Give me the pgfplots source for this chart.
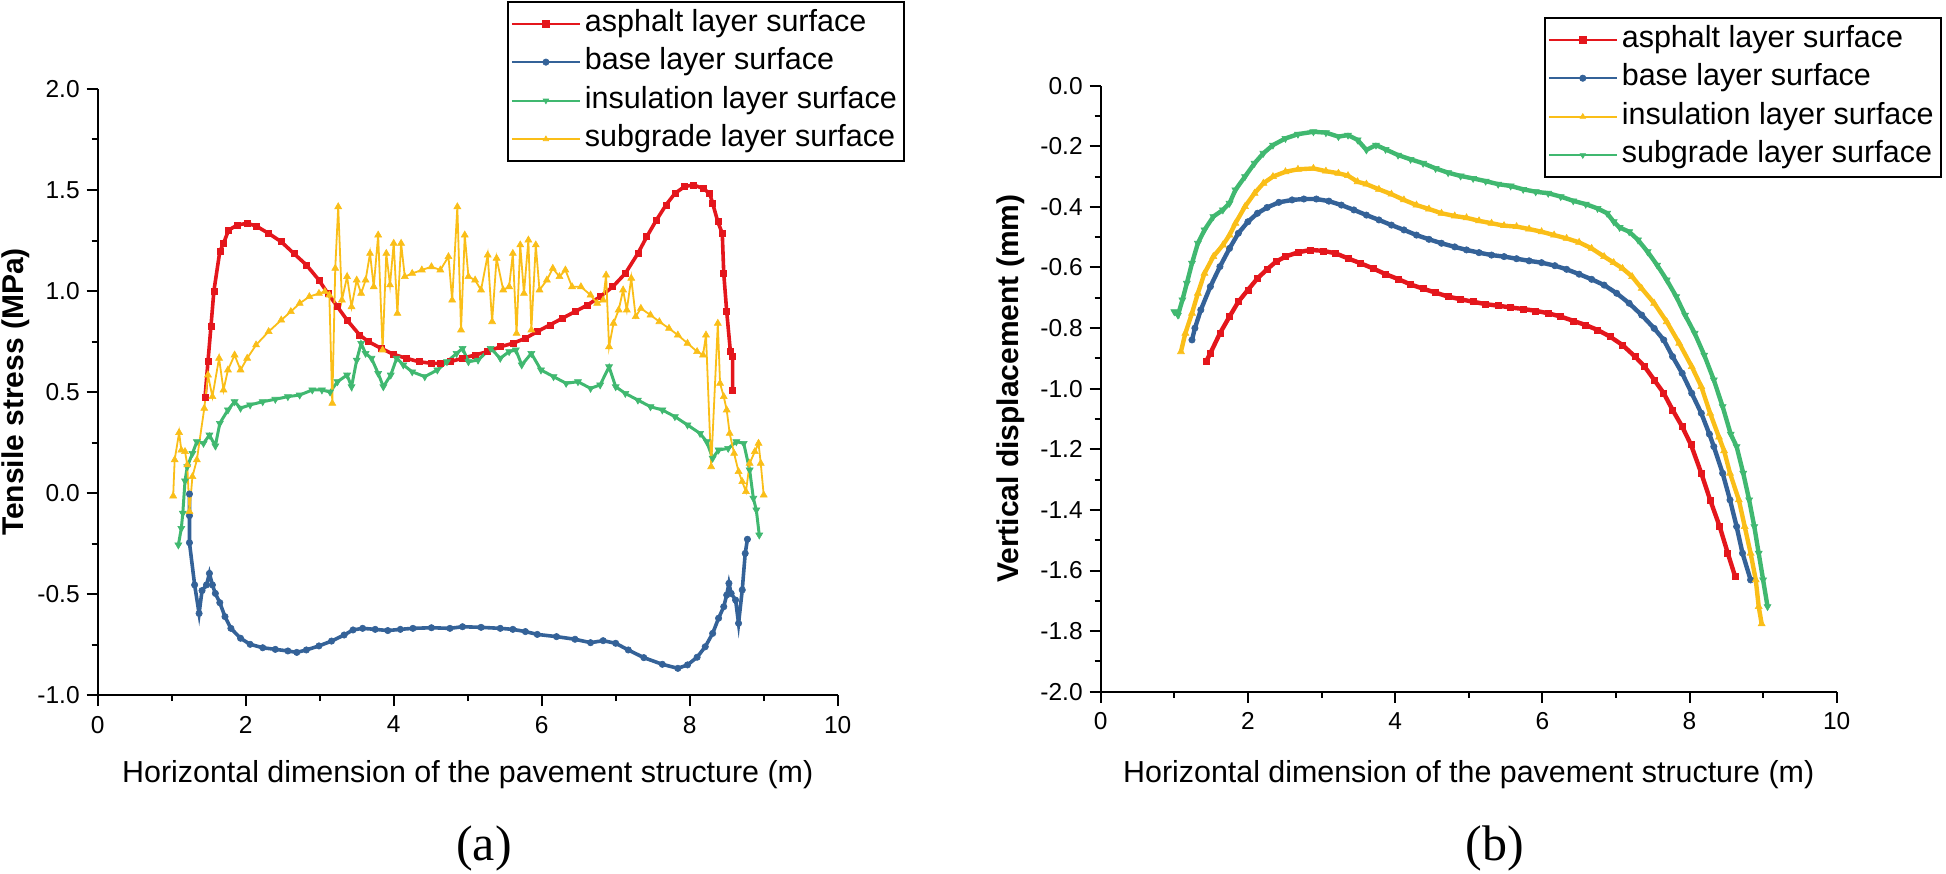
\documentclass[border=0pt]{standalone}
\usepackage{fontspec}
\setmainfont{Liberation Sans}
\newfontfamily\timesf{Liberation Serif}
\usepackage{pgfplots}
\pgfplotsset{compat=1.18}
\definecolor{cred}{RGB}{228,22,28}
\definecolor{cblue}{RGB}{52,98,152}
\definecolor{cgreen}{RGB}{64,184,112}
\definecolor{cyellow}{RGB}{250,190,24}

\pgfplotsset{
  panel/.style={
    scale only axis,
    width=370pt, height=303pt,
    xmin=0, xmax=10,
    axis x line=bottom, axis y line=left,
    axis line style={-, line width=1pt},
    tick align=outside,
    every tick/.style={black, line width=1pt},
    major tick length=5.5pt, minor tick length=3pt,
    xtick={0,2,...,10}, minor x tick num=1,
    /pgf/number format/assume math mode=true,
    tick label style={font=\fontsize{12.25}{14}\selectfont},
    xticklabel style={yshift=-1.5pt},
    yticklabel style={/pgf/number format/.cd, fixed, fixed zerofill, precision=1},
    label style={font=\fontsize{15.2}{18}\selectfont},
    ylabel style={font=\fontsize{15}{18}\selectfont\bfseries},
    legend cell align=left,
    legend style={draw=black, line width=1pt, anchor=north west,
      font=\fontsize{15.25}{18}\selectfont,
      inner sep=1.5pt, row sep=0.75pt,
      nodes={inner sep=2pt, text height=11pt, text depth=3.5pt}},
    legend image code/.code={\draw[mark repeat=2,mark phase=2,#1,line width=1pt,mark size=1.6pt]
      plot coordinates {(0pt,0pt) (17pt,0pt) (34pt,0pt)};},
  },
  sred/.style={color=cred, mark=square*, mark size=1.5pt, mark options={solid, line width=0.3pt}},
  sblue/.style={color=cblue, mark=*, mark size=1.6pt, mark options={solid, line width=0.3pt}},
  sgreen/.style={color=cgreen, mark=triangle*, mark size=2pt, mark options={solid, rotate=180, line width=0.3pt}},
  syellow/.style={color=cyellow, mark=triangle*, mark size=2pt, mark options={solid, line width=0.3pt}},
}

\begin{document}
\begin{tikzpicture}
\path[use as bounding box] (0,0) rectangle (973pt,436.5pt);

% ---------------- (a) ----------------
\begin{axis}[panel,
  at={(48.85pt,89pt)}, anchor=south west,
  ymin=-1, ymax=2, ytick={-1,-0.5,...,2}, minor y tick num=1,
  xlabel={Horizontal dimension of the pavement structure (m)},
  xlabel style={at={(axis description cs:0.5,0)}, anchor=base, yshift=-43.5pt},
  ylabel={Tensile stress (MPa)},
  ylabel style={at={(axis description cs:-0.1104,0.5)}, anchor=center},
  legend style={at={(axis description cs:0.553,1.145)}},
]
\addplot[sred, line width=1.8pt] table {
1.45 0.472
1.49 0.65
1.53 0.823
1.57 1.0
1.65 1.195
1.70 1.236
1.77 1.302
1.89 1.327
2.02 1.335
2.14 1.322
2.31 1.285
2.48 1.244
2.65 1.186
2.82 1.129
2.99 1.054
3.11 0.988
3.24 0.922
3.37 0.856
3.54 0.782
3.66 0.749
3.83 0.716
4.00 0.686
4.17 0.667
4.34 0.650
4.51 0.642
4.63 0.642
4.76 0.650
4.93 0.667
5.10 0.683
5.27 0.700
5.44 0.724
5.61 0.741
5.78 0.766
5.94 0.799
6.11 0.832
6.28 0.865
6.45 0.898
6.62 0.931
6.79 0.972
6.96 1.021
7.13 1.087
7.30 1.186
7.42 1.269
7.55 1.351
7.68 1.426
7.80 1.483
7.93 1.517
8.05 1.525
8.18 1.508
8.27 1.483
8.31 1.434
8.38 1.343
8.44 1.285
8.46 1.087
8.50 0.898
8.55 0.700
8.58 0.675
8.58 0.510
};
\addlegendentry{asphalt layer surface}
\addplot[sblue, line width=1.8pt] table {
1.24 -0.005
1.24 -0.112
1.24 -0.246
1.31 -0.455
1.37 -0.596
1.41 -0.483
1.47 -0.455
1.51 -0.398
1.55 -0.455
1.59 -0.497
1.65 -0.543
1.72 -0.612
1.80 -0.670
1.93 -0.719
2.06 -0.749
2.23 -0.766
2.40 -0.774
2.57 -0.782
2.69 -0.789
2.82 -0.777
2.99 -0.757
3.16 -0.733
3.33 -0.703
3.45 -0.678
3.58 -0.670
3.75 -0.675
3.92 -0.681
4.09 -0.675
4.26 -0.670
4.51 -0.667
4.76 -0.670
4.93 -0.662
5.18 -0.665
5.44 -0.670
5.61 -0.675
5.78 -0.686
5.94 -0.700
6.20 -0.711
6.45 -0.724
6.66 -0.741
6.83 -0.731
7.00 -0.744
7.17 -0.777
7.38 -0.815
7.63 -0.848
7.84 -0.868
7.97 -0.851
8.10 -0.813
8.21 -0.761
8.31 -0.695
8.39 -0.620
8.46 -0.563
8.50 -0.505
8.53 -0.447
8.56 -0.497
8.62 -0.530
8.66 -0.645
8.71 -0.480
8.75 -0.299
8.78 -0.229
};
\addlegendentry{base layer surface}
\addplot[sgreen, line width=1.5pt] table {
1.09 -0.257
1.13 -0.175
1.15 -0.100
1.18 0.060
1.21 0.130
1.28 0.196
1.34 0.254
1.43 0.246
1.51 0.287
1.59 0.233
1.65 0.345
1.76 0.411
1.85 0.452
1.93 0.420
2.06 0.436
2.23 0.452
2.40 0.464
2.57 0.477
2.73 0.485
2.90 0.510
3.03 0.510
3.14 0.500
3.24 0.551
3.37 0.584
3.43 0.526
3.50 0.658
3.56 0.741
3.62 0.691
3.70 0.667
3.79 0.592
3.86 0.526
3.96 0.584
4.04 0.667
4.13 0.634
4.25 0.600
4.42 0.576
4.59 0.609
4.72 0.650
4.85 0.691
4.93 0.716
5.01 0.650
5.14 0.658
5.31 0.716
5.44 0.667
5.56 0.700
5.65 0.708
5.73 0.634
5.86 0.691
5.99 0.609
6.16 0.576
6.33 0.543
6.49 0.551
6.66 0.518
6.79 0.535
6.91 0.625
7.00 0.526
7.13 0.493
7.30 0.460
7.47 0.427
7.63 0.411
7.80 0.378
7.97 0.337
8.14 0.295
8.23 0.254
8.31 0.172
8.39 0.213
8.52 0.221
8.63 0.254
8.73 0.246
8.81 0.114
8.86 -0.026
8.90 -0.084
8.94 -0.208
};
\addlegendentry{insulation layer surface}
\addplot[syellow, line width=0.9pt] table {
1.02 -0.015
1.04 0.164
1.10 0.299
1.13 0.212
1.18 0.205
1.21 0.139
1.24 -0.092
1.28 0.081
1.34 0.164
1.44 0.419
1.49 0.584
1.55 0.477
1.64 0.667
1.70 0.510
1.76 0.609
1.85 0.683
1.93 0.609
2.02 0.667
2.14 0.733
2.31 0.799
2.48 0.856
2.61 0.898
2.73 0.939
2.86 0.972
2.99 0.988
3.07 0.997
3.13 0.980
3.17 0.444
3.21 1.112
3.25 1.417
3.30 0.955
3.37 1.071
3.43 0.922
3.50 1.054
3.56 0.988
3.62 1.054
3.68 1.186
3.73 1.021
3.79 1.277
3.85 0.708
3.90 1.186
3.95 1.030
4.00 1.236
4.05 0.889
4.10 1.236
4.15 1.071
4.25 1.087
4.38 1.104
4.51 1.120
4.63 1.104
4.74 1.170
4.79 0.955
4.86 1.417
4.91 0.807
4.96 1.277
5.01 1.071
5.10 1.054
5.18 1.005
5.27 1.178
5.33 0.848
5.39 1.162
5.48 1.005
5.56 1.021
5.61 1.186
5.66 0.790
5.71 1.228
5.76 0.988
5.82 1.252
5.86 0.807
5.92 1.228
5.97 1.005
6.07 1.054
6.15 1.112
6.24 1.071
6.32 1.104
6.41 1.021
6.53 1.021
6.66 0.980
6.75 0.939
6.83 0.955
6.87 1.079
6.91 0.724
6.97 0.840
7.04 0.906
7.10 1.005
7.15 0.906
7.21 1.063
7.27 0.873
7.34 0.914
7.47 0.881
7.59 0.848
7.72 0.815
7.84 0.782
7.97 0.741
8.10 0.700
8.18 0.683
8.22 0.782
8.29 0.130
8.38 0.840
8.41 0.543
8.46 0.477
8.50 0.411
8.54 0.295
8.60 0.196
8.66 0.106
8.71 0.056
8.76 0.007
8.81 0.147
8.88 0.205
8.93 0.246
8.96 0.147
9.00 -0.010
};
\addlegendentry{subgrade layer surface}
\end{axis}

% ---------------- (b) ----------------
\begin{axis}[panel,
  at={(550.35pt,90.65pt)}, anchor=south west, width=368pt,
  ymin=-2, ymax=0, ytick={-2,-1.8,...,0.01}, minor y tick num=1,
  xlabel={Horizontal dimension of the pavement structure (m)},
  xlabel style={at={(axis description cs:0.5,0)}, anchor=base, yshift=-45.15pt},
  ylabel={Vertical displacement (mm)},
  ylabel style={at={(axis description cs:-0.1219,0.5)}, anchor=center},
  legend style={at={(axis description cs:0.602,1.113)}},
]
\addplot[sred, line width=2.2pt] table {
1.43 -0.911
1.49 -0.883
1.62 -0.817
1.75 -0.762
1.87 -0.713
2.00 -0.674
2.13 -0.636
2.26 -0.606
2.38 -0.581
2.51 -0.564
2.68 -0.550
2.85 -0.542
3.02 -0.545
3.19 -0.553
3.36 -0.570
3.53 -0.586
3.70 -0.603
3.87 -0.622
4.04 -0.638
4.21 -0.656
4.38 -0.670
4.55 -0.683
4.72 -0.696
4.89 -0.705
5.06 -0.713
5.23 -0.721
5.40 -0.726
5.57 -0.732
5.74 -0.737
5.91 -0.743
6.08 -0.751
6.25 -0.762
6.42 -0.776
6.59 -0.790
6.75 -0.806
6.92 -0.828
7.09 -0.856
7.26 -0.894
7.39 -0.927
7.52 -0.971
7.65 -1.015
7.77 -1.070
7.90 -1.125
8.02 -1.185
8.16 -1.279
8.28 -1.367
8.41 -1.455
8.52 -1.543
8.62 -1.620
};
\addlegendentry{asphalt layer surface}
\addplot[sblue, line width=2.2pt] table {
1.24 -0.839
1.28 -0.800
1.36 -0.740
1.49 -0.663
1.62 -0.597
1.75 -0.537
1.87 -0.487
2.00 -0.449
2.13 -0.421
2.26 -0.402
2.42 -0.385
2.60 -0.377
2.76 -0.374
2.93 -0.374
3.10 -0.381
3.27 -0.394
3.44 -0.410
3.61 -0.427
3.78 -0.443
3.95 -0.460
4.12 -0.476
4.29 -0.493
4.46 -0.507
4.63 -0.520
4.81 -0.532
4.97 -0.542
5.14 -0.551
5.31 -0.559
5.48 -0.564
5.65 -0.571
5.82 -0.578
5.99 -0.584
6.17 -0.594
6.33 -0.606
6.50 -0.622
6.67 -0.639
6.84 -0.658
7.01 -0.685
7.18 -0.718
7.35 -0.757
7.52 -0.801
7.65 -0.839
7.77 -0.894
7.90 -0.949
8.03 -1.015
8.16 -1.081
8.27 -1.150
8.33 -1.191
8.45 -1.279
8.55 -1.367
8.64 -1.455
8.72 -1.543
8.83 -1.631
};
\addlegendentry{base layer surface}
\addplot[syellow, line width=2.2pt] table {
1.09 -0.878
1.15 -0.817
1.24 -0.751
1.32 -0.685
1.41 -0.619
1.53 -0.564
1.66 -0.526
1.75 -0.493
1.83 -0.454
1.96 -0.399
2.09 -0.355
2.21 -0.322
2.34 -0.300
2.51 -0.284
2.68 -0.276
2.89 -0.273
3.06 -0.282
3.23 -0.289
3.36 -0.297
3.49 -0.317
3.61 -0.325
3.78 -0.342
3.95 -0.358
4.12 -0.377
4.29 -0.394
4.46 -0.407
4.63 -0.421
4.81 -0.430
4.97 -0.436
5.14 -0.446
5.31 -0.454
5.48 -0.462
5.65 -0.465
5.82 -0.473
5.99 -0.482
6.16 -0.493
6.33 -0.504
6.50 -0.517
6.67 -0.537
6.84 -0.564
6.97 -0.584
7.09 -0.603
7.22 -0.630
7.35 -0.669
7.52 -0.718
7.69 -0.779
7.86 -0.850
8.03 -0.927
8.16 -0.993
8.28 -1.081
8.40 -1.160
8.47 -1.205
8.55 -1.279
8.67 -1.367
8.75 -1.455
8.83 -1.543
8.90 -1.631
8.94 -1.719
8.98 -1.776
};
\addlegendentry{insulation layer surface}
\addplot[sgreen, line width=2.2pt] table {
1.00 -0.746
1.05 -0.757
1.11 -0.707
1.17 -0.652
1.24 -0.586
1.32 -0.520
1.41 -0.476
1.53 -0.432
1.66 -0.410
1.75 -0.388
1.83 -0.344
1.96 -0.300
2.09 -0.256
2.21 -0.223
2.34 -0.196
2.51 -0.174
2.68 -0.160
2.89 -0.152
3.06 -0.155
3.23 -0.168
3.36 -0.163
3.49 -0.179
3.61 -0.212
3.74 -0.196
3.87 -0.210
4.04 -0.229
4.21 -0.243
4.38 -0.256
4.55 -0.273
4.72 -0.287
4.89 -0.298
5.06 -0.306
5.23 -0.315
5.40 -0.325
5.57 -0.331
5.74 -0.342
5.91 -0.350
6.08 -0.355
6.25 -0.366
6.42 -0.380
6.59 -0.391
6.75 -0.405
6.88 -0.421
6.97 -0.449
7.05 -0.468
7.18 -0.482
7.30 -0.509
7.43 -0.548
7.56 -0.592
7.69 -0.641
7.82 -0.696
7.94 -0.757
8.07 -0.817
8.20 -0.889
8.33 -0.971
8.45 -1.059
8.56 -1.150
8.64 -1.191
8.73 -1.279
8.81 -1.367
8.88 -1.455
8.94 -1.543
9.00 -1.631
9.06 -1.719
};
\addlegendentry{subgrade layer surface}
\end{axis}

\node[font=\timesf\fontsize{25}{28}\selectfont, anchor=center] at (242pt,12.5pt) {(a)};
\node[font=\timesf\fontsize{25}{28}\selectfont, anchor=center] at (747.5pt,12.5pt) {(b)};
\end{tikzpicture}
\end{document}
